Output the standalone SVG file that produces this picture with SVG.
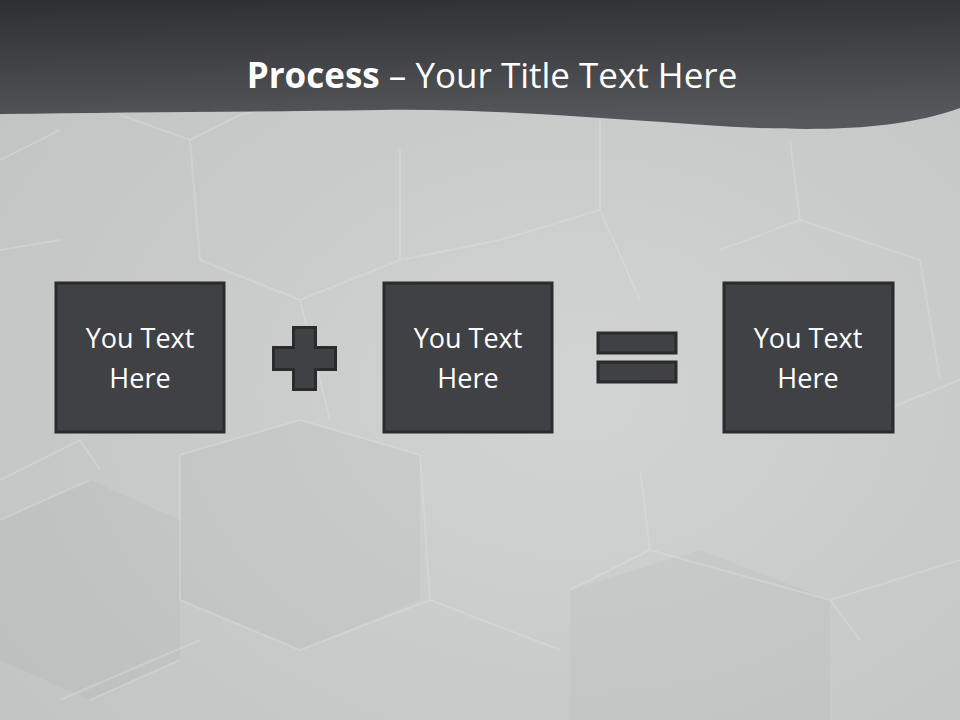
<svg xmlns="http://www.w3.org/2000/svg" width="960" height="720" viewBox="0 0 960 720">
<style>
.box{fill:#404144;stroke:#2b2b2d;stroke-width:3}
.sym{fill:#404144;stroke:#2b2b2d;stroke-width:3}
.lbl{font-family:"Open Sans","Liberation Sans",sans-serif;font-size:27px;fill:#ffffff;text-anchor:middle}
.hex{fill:none;stroke:#e2e3e3;stroke-width:2;stroke-opacity:0.35}
.shade{fill:#000;fill-opacity:0.025}
</style>
<defs>
<radialGradient id="bg" cx="0.6" cy="0.55" r="0.75">
<stop offset="0" stop-color="#d2d3d3"/>
<stop offset="1" stop-color="#c2c3c3"/>
</radialGradient>
<linearGradient id="hdr" x1="0" y1="0" x2="0.15" y2="1">
<stop offset="0" stop-color="#2e2f32"/>
<stop offset="1" stop-color="#55575a"/>
</linearGradient>
</defs>
<rect width="960" height="720" fill="url(#bg)"/>
<g id="background-hexes">
<polygon class="shade" points="180,455 300,420 420,455 420,600 300,650 180,600"/>
<polygon class="shade" points="0,520 90,480 180,520 180,660 90,700 0,660"/>
<polygon class="shade" points="570,590 700,550 830,600 830,720 570,720"/>
<path class="hex" d="M0,160 L60,130 M120,115 L190,140 L240,115 M190,140 L200,260 L300,300 L400,260 L400,150 M300,300 L330,420 M400,260 L500,240 L600,210 L600,120 M600,210 L640,300 M720,250 L800,220 L920,260 L940,380 M800,220 L790,140 M0,250 L60,240 M0,480 L80,440 L100,470 M180,455 L300,420 L420,455 M420,455 L430,600 L300,650 L180,600 L180,455 M0,520 L90,480 M90,700 L180,660 M430,600 L560,650 M640,470 L650,550 L570,590 M650,550 L830,600 L860,640 M830,600 L960,560 M860,420 L960,380 M60,700 L200,640 M240,115 L300,100"/>
</g>
<g id="header">
<path d="M0,0 H960 V108 C900,130 820,132 720,126 C600,118 480,108 380,110 C240,112 120,112 0,114 Z" fill="url(#hdr)"/>
<text x="492" y="88" font-family="'Open Sans','Liberation Sans',sans-serif" font-size="35" fill="#ffffff" text-anchor="middle"><tspan font-weight="bold">Process</tspan> – Your Title Text Here</text>
</g>
<g id="connectors"></g>
<g id="node1">
<rect class="box" x="56" y="283" width="168" height="149"/>
<text class="lbl" x="140" y="348">You Text</text>
<text class="lbl" x="140" y="388">Here</text>
</g>
<g id="plus">
<path class="sym" d="M293.5,327.5 H315.5 V347.5 H335.5 V369.5 H315.5 V389.5 H293.5 V369.5 H273.5 V347.5 H293.5 Z"/>
</g>
<g id="node2">
<rect class="box" x="384" y="283" width="168" height="149"/>
<text class="lbl" x="468" y="348">You Text</text>
<text class="lbl" x="468" y="388">Here</text>
</g>
<g id="equals">
<rect class="sym" x="598" y="333" width="78" height="20"/>
<rect class="sym" x="598" y="362" width="78" height="20"/>
</g>
<g id="node3">
<rect class="box" x="724" y="283" width="169" height="149"/>
<text class="lbl" x="808" y="348">You Text</text>
<text class="lbl" x="808" y="388">Here</text>
</g>
</svg>
